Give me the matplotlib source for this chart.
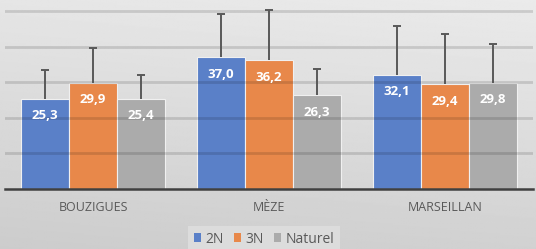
import matplotlib
matplotlib.use("Agg")
import matplotlib.pyplot as plt
import numpy as np
from matplotlib.patches import Patch

categories = ["BOUZIGUES", "MÈZE", "MARSEILLAN"]
series = ["2N", "3N", "Naturel"]
values_2n = [25.3, 37.0, 32.1]
values_3n = [29.9, 36.2, 29.4]
values_nat = [25.4, 26.3, 29.8]
err_2n = [8.1, 12.2, 13.8]
err_3n = [9.6, 14.1, 14.1]
err_nat = [6.5, 7.4, 10.9]
labels_2n = ["25,3", "37,0", "32,1"]
labels_3n = ["29,9", "36,2", "29,4"]
labels_nat = ["25,4", "26,3", "29,8"]
colors = ["#5A80C8", "#E8884A", "#ABABAB"]

plt.rcParams['font.family'] = ['Open Sans', 'DejaVu Sans']

W, H = 536, 249
fig = plt.figure(figsize=(W/100, H/100), dpi=100)

# background gradient
bg = fig.add_axes([0, 0, 1, 1], zorder=0)
yy, xx = np.mgrid[0:1:200j, 0:1:400j]
g = 0.80 + 0.10 * (1 - yy) + 0.02 * xx
bg.imshow(g, cmap='gray', vmin=0, vmax=1, aspect='auto', extent=[0, 1, 0, 1], origin='upper')
bg.axis('off')

ax = fig.add_axes([5/W, 60/H, 528/W, 189/H], zorder=1)
ax.set_facecolor('none')

x = np.arange(len(categories))
bw = 0.273
cap_half = 0.024
all_vals = [values_2n, values_3n, values_nat]
all_errs = [err_2n, err_3n, err_nat]
all_labels = [labels_2n, labels_3n, labels_nat]
for i, (vals, errs, labs) in enumerate(zip(all_vals, all_errs, all_labels)):
    pos = x + (i - 1) * bw
    vals = np.array(vals)
    errs = np.array(errs)
    ax.bar(pos, vals, width=bw, color=colors[i], edgecolor='#f0f0f0', linewidth=0.8, zorder=3)
    ax.vlines(pos, vals, vals + errs, color='#595959', linewidth=1.4, zorder=4)
    ax.hlines(vals + errs, pos - cap_half, pos + cap_half, color='#595959', linewidth=1.4, zorder=4)
    for p, v, l in zip(pos, vals, labs):
        ax.annotate(l, (p, v), xytext=(0, -17), textcoords='offset pixels',
                    ha='center', va='center', color='white', fontsize=9.5,
                    fontweight='bold', zorder=5)

ax.set_xlim(-0.5, 2.5)
ax.set_ylim(0, 53.1)
for gy in [10, 20, 30, 40, 50]:
    ax.axhline(gy, color='black', alpha=0.13, linewidth=2.0, zorder=3.5)
ax.axhline(0, color='#404040', linewidth=1.8, zorder=6, clip_on=False)
for s in ax.spines.values():
    s.set_visible(False)
ax.set_yticks([])
ax.set_xticks(x)
ax.set_xticklabels(categories, fontsize=9, color='#595959')
ax.tick_params(axis='x', length=0, pad=8.5)

handles = [Patch(facecolor=c, edgecolor='none') for c in colors]
leg = fig.legend(handles, series, loc='center', bbox_to_anchor=(264/W, 1 - 239/H),
                 ncol=3, frameon=True, fontsize=10, handlelength=0.55, handleheight=0.55,
                 handletextpad=0.3, columnspacing=0.7, borderpad=0.4, fancybox=False,
                 labelcolor='#595959')
leg.get_frame().set_facecolor('#dcdcdc')
leg.get_frame().set_edgecolor('none')
leg.get_frame().set_alpha(1)

fig.savefig('out.png', dpi=100)
